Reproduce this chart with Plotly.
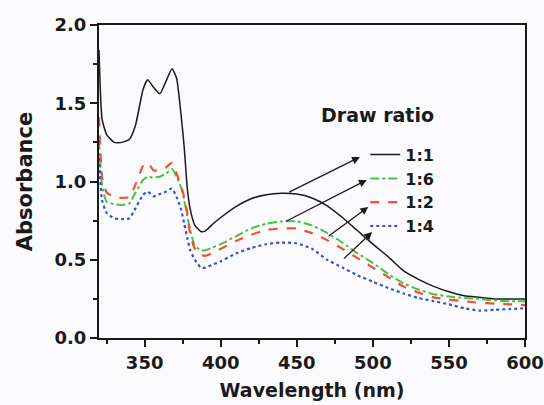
import plotly.graph_objects as go

wavelength = [320, 322, 325, 330, 335, 340, 344, 349, 352, 356, 360, 364, 368, 371, 374, 376, 378, 380,
              383, 387, 390, 395, 400, 410, 420, 430, 440, 450, 460, 470, 480, 490, 500, 510, 520,
              530, 540, 550, 560, 570, 580, 590, 600]

abs_1_1 = [1.84, 1.40, 1.30, 1.25, 1.25, 1.27, 1.36, 1.59, 1.65, 1.60, 1.56, 1.64, 1.72, 1.66, 1.42, 1.22,
           0.96, 0.82, 0.72, 0.68, 0.685, 0.73, 0.77, 0.84, 0.89, 0.915, 0.925, 0.92, 0.895, 0.845,
           0.77, 0.685, 0.60, 0.52, 0.43, 0.375, 0.33, 0.295, 0.27, 0.26, 0.25, 0.25, 0.25]
abs_1_6 = [1.26, 0.98, 0.87, 0.855, 0.85, 0.86, 0.93, 1.01, 1.03, 1.025, 1.03, 1.05, 1.08, 1.03, 0.96, 0.88,
           0.78, 0.69, 0.59, 0.56, 0.56, 0.58, 0.60, 0.65, 0.70, 0.73, 0.745, 0.745, 0.72, 0.67,
           0.61, 0.54, 0.48, 0.41, 0.35, 0.31, 0.28, 0.265, 0.255, 0.25, 0.24, 0.235, 0.235]
abs_1_2 = [1.41, 1.03, 0.93, 0.90, 0.895, 0.90, 0.98, 1.10, 1.12, 1.07, 1.075, 1.09, 1.12, 1.05, 0.97, 0.90,
           0.80, 0.66, 0.57, 0.53, 0.525, 0.545, 0.57, 0.62, 0.66, 0.69, 0.70, 0.70, 0.67, 0.625,
           0.57, 0.51, 0.45, 0.39, 0.33, 0.29, 0.26, 0.245, 0.235, 0.225, 0.22, 0.215, 0.21]
abs_1_4 = [1.15, 0.88, 0.80, 0.765, 0.76, 0.765, 0.83, 0.915, 0.935, 0.905, 0.92, 0.935, 0.955, 0.90, 0.82, 0.73,
           0.64, 0.56, 0.50, 0.45, 0.45, 0.47, 0.49, 0.54, 0.575, 0.60, 0.61, 0.605, 0.57, 0.50,
           0.45, 0.40, 0.36, 0.32, 0.285, 0.255, 0.235, 0.215, 0.19, 0.175, 0.18, 0.185, 0.19]

ratio_labels = ["1:1", "1:6", "1:2", "1:4"]
series = [abs_1_1, abs_1_6, abs_1_2, abs_1_4]
colors = ["#1a1a1a", "#4cbf45", "#f2502e", "#2d55d6"]
dashes = ["solid", "dashdot", "dash", "dot"]
widths = [1.5, 2, 2.2, 2.2]

# arrow tails (on curves) and heads (at legend) in data units
arrow_tail_x = [444, 442, 470, 480]
arrow_tail_y = [0.927, 0.741, 0.645, 0.498]
arrow_head_x = [491.5, 496, 497, 499.5]
arrow_head_y = [1.157, 1.01, 0.837, 0.677]

FONT = "DejaVu Sans"
INK = "#1a1a1a"

fig = go.Figure()
for i, (lab, ys) in enumerate(zip(ratio_labels, series)):
    fig.add_trace(go.Scatter(
        x=wavelength, y=ys, mode="lines", name=lab, legendgroup=lab,
        line=dict(color=colors[i], dash=dashes[i], width=widths[i], shape="spline", smoothing=0.5),
    ))

for tx, ty, hx, hy in zip(arrow_tail_x, arrow_tail_y, arrow_head_x, arrow_head_y):
    fig.add_annotation(x=hx, y=hy, ax=tx, ay=ty, xref="x", yref="y", axref="x", ayref="y",
                       text="", showarrow=True, arrowhead=2, arrowsize=1.2, arrowwidth=1.3,
                       arrowcolor=INK)

fig.add_annotation(text="<b>Draw ratio</b>", x=0.654, y=0.712, xref="paper", yref="paper",
                   showarrow=False, font=dict(family=FONT, size=19, color=INK),
                   xanchor="center", yanchor="middle")

axis_common = dict(
    showline=True, linecolor=INK, linewidth=2, mirror=True,
    ticks="outside", ticklen=7, tickwidth=2, tickcolor=INK,
    showgrid=False, zeroline=False,
    tickfont=dict(family=FONT, size=18, color=INK, weight="bold"),
)

fig.update_xaxes(range=[320, 600], tick0=350, dtick=50,
                 minor=dict(ticks="outside", ticklen=4, tickwidth=1.5, tick0=325, dtick=25, tickcolor=INK),
                 title=dict(text="<b>Wavelength (nm)</b>", font=dict(family=FONT, size=19, color=INK), standoff=12),
                 **axis_common)
fig.update_yaxes(range=[0, 2.0], tick0=0, dtick=0.5, tickformat=".1f",
                 minor=dict(ticks="outside", ticklen=4, tickwidth=1.5, tick0=0.25, dtick=0.5, tickcolor=INK),
                 title=dict(text="<b>Absorbance</b>", font=dict(family=FONT, size=21, color=INK), standoff=16),
                 **axis_common)

fig.update_layout(
    width=544, height=405,
    margin=dict(l=99, r=19, t=25, b=67, autoexpand=False),
    paper_bgcolor="#fbfbfe", plot_bgcolor="#fbfbfe",
    font=dict(family=FONT, color=INK),
    legend=dict(x=0.625, y=0.64, xanchor="left", yanchor="top", bgcolor="rgba(0,0,0,0)",
                font=dict(family=FONT, size=16, color=INK, weight="bold"), tracegroupgap=0,
                itemwidth=30),
    showlegend=True,
)

fig.write_html("out.html")
